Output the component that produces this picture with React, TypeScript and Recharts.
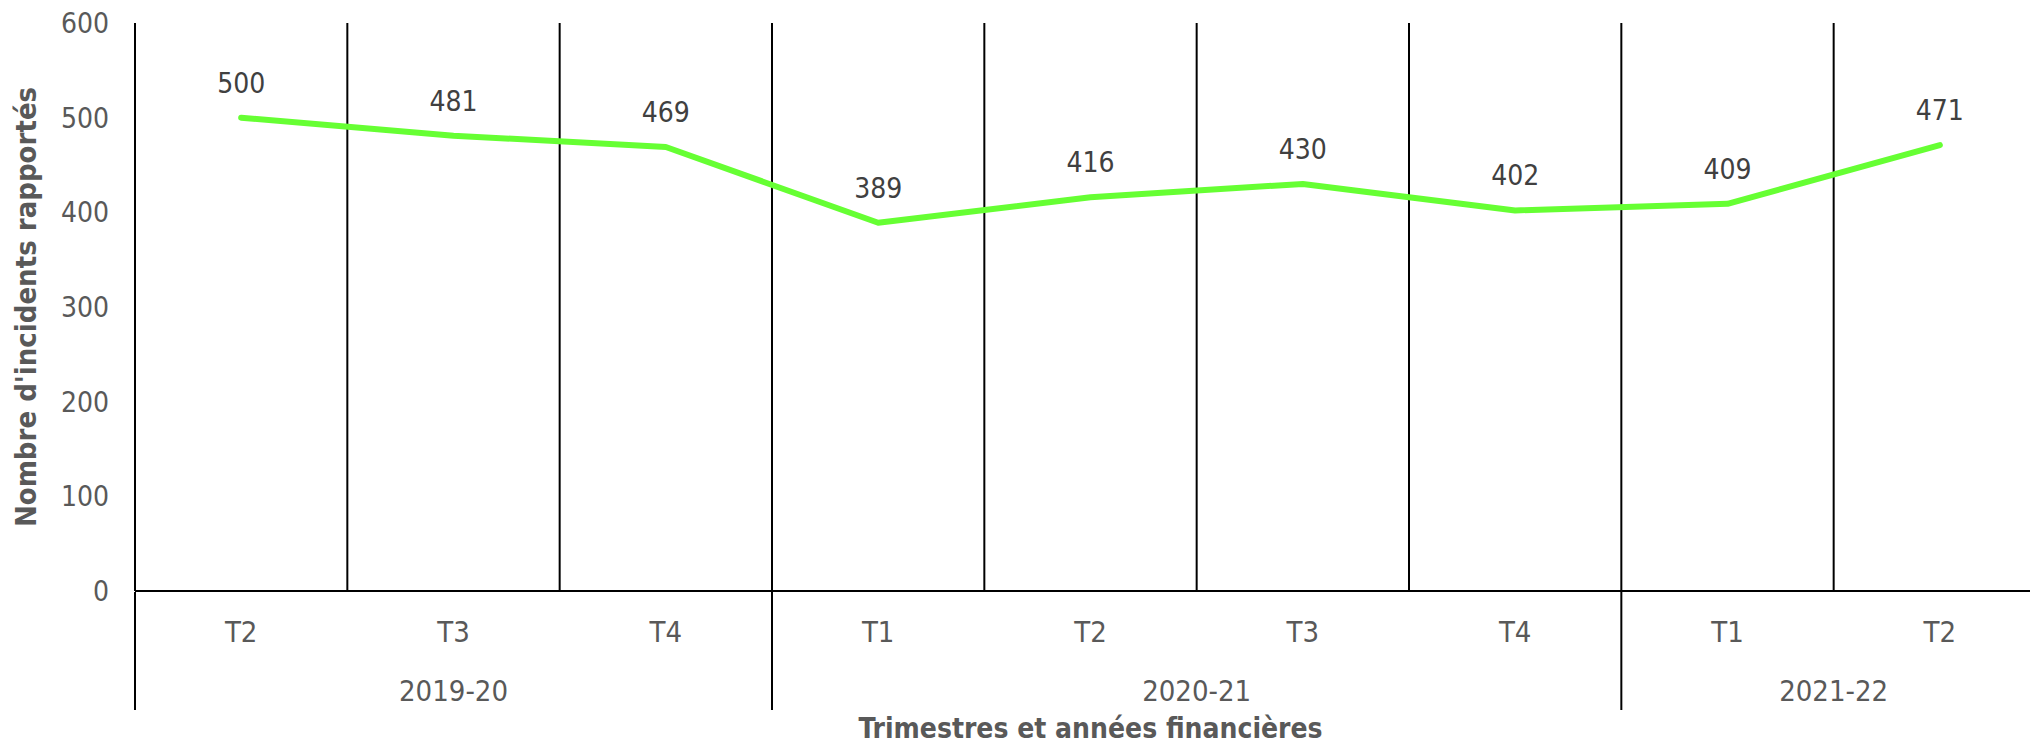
import { LineChart, Line, XAxis, YAxis, CartesianGrid, LabelList } from 'recharts';

const quarters = ['T2', 'T3', 'T4', 'T1', 'T2', 'T3', 'T4', 'T1', 'T2'];
const incidents = [500, 481, 469, 389, 416, 430, 402, 409, 471];
const years = ['2019-20', '2020-21', '2021-22'];
const quartersPerYear = [3, 4, 2];
const yTicks = [0, 100, 200, 300, 400, 500, 600];

const data = quarters.map((quarter, i) => ({ x: i, quarter, incidents: incidents[i] }));

// index of first quarter of each financial year
const yearStarts = quartersPerYear.map((_, i) => quartersPerYear.slice(0, i).reduce((a, b) => a + b, 0));
const yearCenters = yearStarts.map((s, i) => s + (quartersPerYear[i] - 1) / 2);
const yearEdges = yearStarts.map((s) => s - 0.5);
const quarterEdges = quarters.slice(1).map((_, i) => i + 0.5);
const xDomain = [-0.5, quarters.length - 0.5];

const FONT = "'DejaVu Sans Condensed', 'Liberation Sans Narrow', 'DejaVu Sans', sans-serif";
const TEXT = '#595959';

const YTitle = (props: any) => {
  const { viewBox } = props;
  const cx = 36;
  const cy = viewBox.y + viewBox.height / 2;
  return (
    <text
      x={cx}
      y={cy}
      transform={`rotate(-90, ${cx}, ${cy})`}
      textAnchor="middle"
      fill={TEXT}
      fontWeight="bold"
      fontSize={29}
    >
      Nombre d'incidents rapportés
    </text>
  );
};

const XTitle = (props: any) => {
  const { viewBox } = props;
  return (
    <text
      x={viewBox.x + viewBox.width / 2}
      y={738}
      textAnchor="middle"
      fill={TEXT}
      fontWeight="bold"
      fontSize={28}
    >
      Trimestres et années financières
    </text>
  );
};

const NoLabel = () => <g />;

export default function App() {
  return (
    <div
      style={{
        position: 'absolute',
        left: 0,
        top: 0,
        width: 2030,
        height: 746,
        overflow: 'hidden',
        background: '#fff',
        fontFamily: FONT,
      }}
    >
      <LineChart
        width={2060}
        height={746}
        data={data}
        margin={{ top: 23, right: 14, left: 0, bottom: 152 }}
      >
        <CartesianGrid xAxisId="grid" horizontal={false} stroke="#000" strokeWidth={2} />
        <XAxis
          xAxisId="sep"
          dataKey="x"
          type="number"
          domain={xDomain}
          allowDataOverflow
          ticks={yearEdges}
          interval={0}
          height={1}
          tickSize={118}
          tickLine={{ stroke: '#000', strokeWidth: 2 }}
          tick={<NoLabel />}
          axisLine={false}
        />
        <XAxis
          xAxisId="q"
          dataKey="x"
          type="number"
          domain={xDomain}
          allowDataOverflow
          ticks={quarters.map((_, i) => i)}
          interval={0}
          tickFormatter={(v) => quarters[v]}
          height={1}
          tickLine={false}
          tickMargin={24}
          axisLine={{ stroke: '#000', strokeWidth: 2 }}
          tick={{ fill: TEXT, fontSize: 29 }}
        />
        <XAxis
          xAxisId="year"
          dataKey="x"
          type="number"
          domain={xDomain}
          allowDataOverflow
          ticks={yearCenters}
          interval={0}
          tickFormatter={(v) => years[yearCenters.indexOf(v)]}
          height={1}
          tickLine={false}
          tickMargin={81}
          axisLine={false}
          tick={{ fill: TEXT, fontSize: 29 }}
          label={{ content: <XTitle /> }}
        />
        <XAxis
          xAxisId="grid"
          dataKey="x"
          type="number"
          domain={xDomain}
          allowDataOverflow
          ticks={quarterEdges}
          interval={0}
          height={0}
          hide
        />
        <YAxis
          domain={[0, 600]}
          ticks={yTicks}
          interval={0}
          width={135}
          tickLine={false}
          tickMargin={20}
          axisLine={{ stroke: '#000', strokeWidth: 2 }}
          tick={{ fill: TEXT, fontSize: 28 }}
          label={{ content: <YTitle /> }}
        />
        <Line
          xAxisId="q"
          type="linear"
          dataKey="incidents"
          stroke="#66FF33"
          strokeWidth={6}
          strokeLinecap="round"
          strokeLinejoin="round"
          dot={false}
          activeDot={false}
          isAnimationActive={false}
        >
          <LabelList dataKey="incidents" position="top" offset={25} fill="#404040" fontSize={28} />
        </Line>
      </LineChart>
    </div>
  );
}
